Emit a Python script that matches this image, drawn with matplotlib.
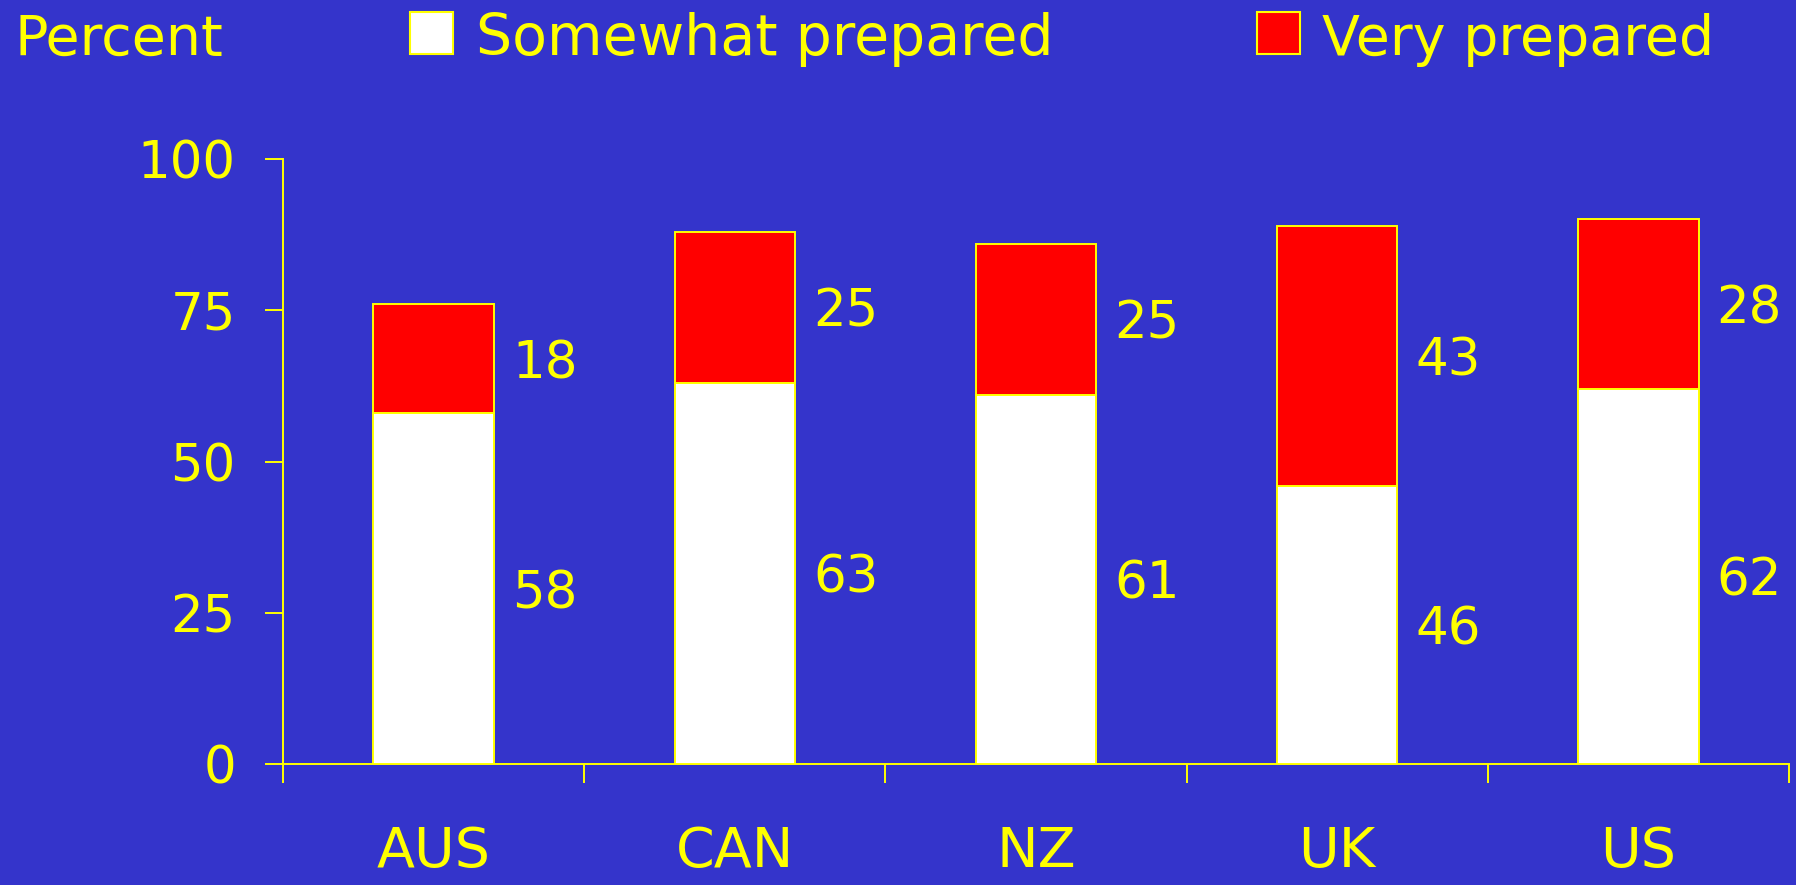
import matplotlib
matplotlib.use('Agg')
import matplotlib.pyplot as plt
from matplotlib.patches import Rectangle
import numpy as np

countries = ['AUS', 'CAN', 'NZ', 'UK', 'US']
somewhat = [58, 63, 61, 46, 62]
very = [18, 25, 25, 43, 28]
yticks = [0, 25, 50, 75, 100]

bg = '#3434CB'
yel = '#FFFF00'
W, H = 1796, 885

plt.rcParams['font.family'] = ['DejaVu Sans']

fig = plt.figure(figsize=(W / 100, H / 100), dpi=100, facecolor=bg)
ax = fig.add_axes([283 / W, 1 - 764 / H, (1789 - 283) / W, (764 - 159) / H])
ax.set_facecolor(bg)

x = np.arange(len(countries))
bw = 0.4
ax.bar(x, somewhat, bw, color='white', edgecolor=yel, linewidth=1.4, zorder=3)
ax.bar(x, very, bw, bottom=somewhat, color='#FF0000', edgecolor=yel, linewidth=1.4, zorder=3)

# value labels to the right of each segment
for i in range(len(countries)):
    ax.text(i + bw / 2 + 0.06, somewhat[i] / 2, str(somewhat[i]), color=yel,
            fontsize=37, ha='left', va='center_baseline')
    ax.text(i + bw / 2 + 0.06, somewhat[i] + very[i] / 2, str(very[i]), color=yel,
            fontsize=37, ha='left', va='center_baseline')

ax.set_xlim(-0.5, len(countries) - 0.5)
ax.set_ylim(0, 100)
for s in ['top', 'right']:
    ax.spines[s].set_visible(False)
for s in ['left', 'bottom']:
    ax.spines[s].set_color(yel)
    ax.spines[s].set_linewidth(1.4)

ax.set_yticks(yticks)
ax.tick_params(axis='y', colors=yel, labelsize=37, length=13, width=1.4, pad=21)
ax.set_xticks(x)
ax.set_xticklabels(countries)
ax.set_xticks(np.arange(-0.5, len(countries)), minor=True)
ax.tick_params(axis='x', which='major', length=0, colors=yel, labelsize=40, pad=44)
ax.tick_params(axis='x', which='minor', length=14, width=1.4, color=yel)

# header and legend
fig.text(14 / W, 1 - 55 / H, 'Percent', color=yel, fontsize=40, va='baseline', ha='left')
fig.add_artist(Rectangle((410 / W, 1 - 54 / H), 43 / W, 42 / H, transform=fig.transFigure,
                         facecolor='white', edgecolor=yel, linewidth=1.5))
fig.text(476 / W, 1 - 55 / H, 'Somewhat prepared', color=yel, fontsize=41, va='baseline', ha='left')
fig.add_artist(Rectangle((1257 / W, 1 - 54 / H), 43 / W, 42 / H, transform=fig.transFigure,
                         facecolor='#FF0000', edgecolor=yel, linewidth=1.5))
fig.text(1322 / W, 1 - 55 / H, 'Very prepared', color=yel, fontsize=40, va='baseline', ha='left')

fig.savefig('out.png', dpi=100, facecolor=bg)
